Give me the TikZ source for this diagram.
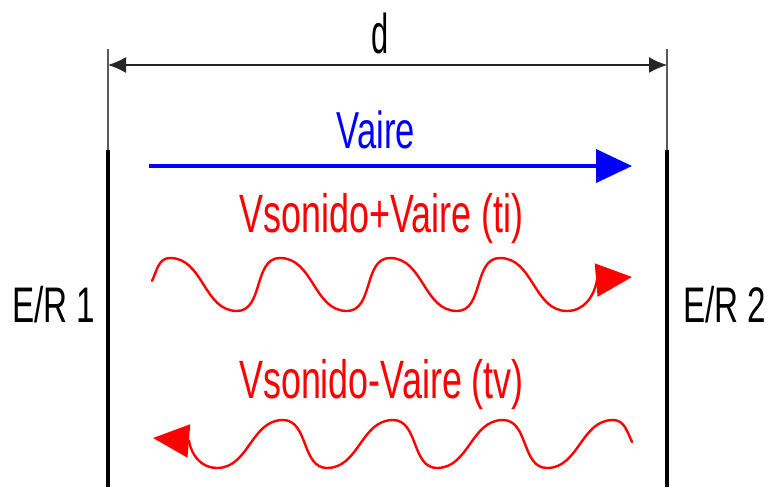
\documentclass[tikz,border=0pt]{standalone}
\usepackage{fontspec}
\setmainfont{Liberation Sans}
\usetikzlibrary{arrows.meta}
\definecolor{wavered}{RGB}{255,0,0}
\definecolor{airblue}{RGB}{0,0,255}
\definecolor{extgray}{RGB}{90,90,90}
\newcommand\narrowtxt[2][0.665]{\scalebox{#1}[1]{#2}}
\begin{document}
\begin{tikzpicture}[x=1pt,y=-1pt,
  lbl/.style={inner sep=0pt, anchor=base},
  redtxt/.style={lbl, text=wavered, font=\fontsize{54}{60}\selectfont},
  bar/.style={line width=3.5pt, black},
  extline/.style={line width=1.4pt, extgray},
  dimline/.style={line width=1.4pt, black!85, {Latex[length=18pt,width=16pt]}-{Latex[length=18pt,width=16pt]}},
  airarrow/.style={line width=4pt, airblue, -{Triangle[length=36pt,width=33pt]}},
  wave/.style={line width=2.4pt, wavered, line cap=round, -{Triangle[length=36pt,width=33pt]}}
]
\useasboundingbox (0,0) rectangle (778,487);

% reference coordinates
\coordinate (lt) at (108,49);
\coordinate (lm) at (108,150);
\coordinate (lb) at (108,487);
\coordinate (rt) at (667,49);
\coordinate (rm) at (667,150);
\coordinate (rb) at (667,487);
\coordinate (dl) at (108,65);
\coordinate (dr) at (667,65);
\coordinate (a1) at (149,166);
\coordinate (a2) at (632,166);

% emitter/receiver walls
\draw[extline] (lt) -- (lm);
\draw[extline] (rt) -- (rm);
\draw[bar] (lm) -- (lb);
\draw[bar] (rm) -- (rb);

% dimension
\draw[dimline] (dl) -- (dr);
\node[lbl, font=\fontsize{56}{60}\selectfont] (d) at (380,53) {\narrowtxt[0.55]{d}};

% air velocity
\node[lbl, text=airblue, font=\fontsize{52}{60}\selectfont] (vaire) at (376,148) {\narrowtxt{Vaire}};
\draw[airarrow] (a1) -- (a2);

% forward wave
\node[redtxt] (ti) at (381.5,232) {\narrowtxt{Vsonido+Vaire (ti)}};
\draw[wave] (152,281) to[out=65,in=180] (170,258)
  to[out=0,in=180] (237,311) to[out=0,in=180] (280,258)
  to[out=0,in=180] (347,311) to[out=0,in=180] (390,258)
  to[out=0,in=180] (457,311) to[out=0,in=180] (500,258)
  to[out=0,in=180] (567,311) to[out=0,in=-100] (597,280) -- (632,277);

% backward wave
\node[redtxt] (tv) at (381.5,398) {\narrowtxt{Vsonido-Vaire (tv)}};
\draw[wave] (632,442) to[out=115,in=0] (613,420)
  to[out=180,in=0] (547,468) to[out=180,in=0] (503,420)
  to[out=180,in=0] (437,468) to[out=180,in=0] (393,420)
  to[out=180,in=0] (327,468) to[out=180,in=0] (283,420)
  to[out=180,in=0] (217,468) to[out=180,in=-80] (189,441) -- (153,438);

% labels
\node[lbl, anchor=base west, font=\fontsize{50}{60}\selectfont] (er1) at (12,322) {\narrowtxt{E/R 1}};
\node[lbl, anchor=base west, font=\fontsize{50}{60}\selectfont] (er2) at (683,322) {\narrowtxt{E/R 2}};
\end{tikzpicture}
\end{document}
